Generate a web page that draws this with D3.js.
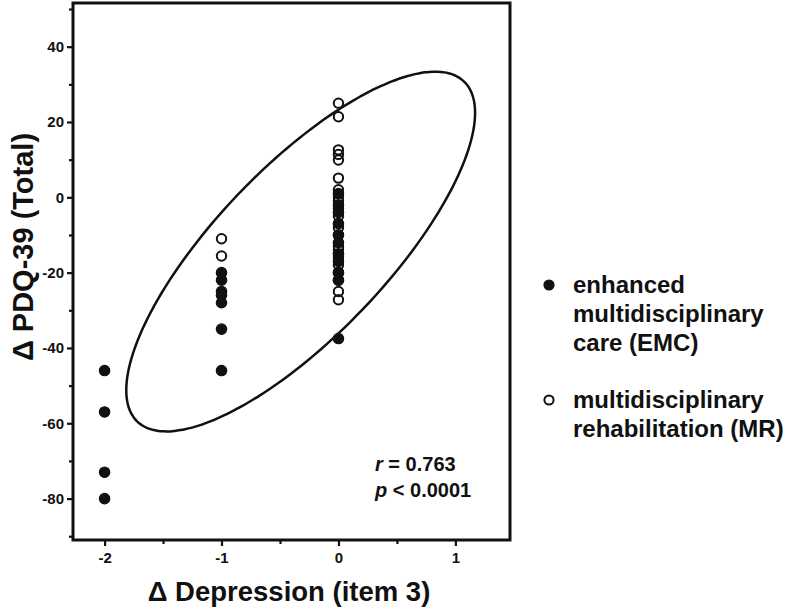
<!DOCTYPE html>
<html>
<head>
<meta charset="utf-8">
<script src="https://cdn.jsdelivr.net/npm/d3@7"></script>
<style>
  html, body { margin: 0; padding: 0; background: #fff; }
  svg { display: block; }
  text { font-family: "Liberation Sans", Arial, Helvetica, sans-serif; font-weight: bold; fill: #111; }
</style>
</head>
<body>
<svg id="chart" width="792" height="611"></svg>
<script>
// ---- data ----
const xTicks = [-2, -1, 0, 1];
const xMinorTicks = [-1.5, -0.5, 0.5];
const yTicks = [-80, -60, -40, -20, 0, 20, 40];
const yMinorTicks = [-90, -70, -50, -30, -10, 10, 30, 50];

// enhanced multidisciplinary care (EMC) – filled markers
const emcX = [-2, -2, -2, -2, -1, -1, -1, -1, -1, -1, -1, 0, 0, 0, 0, 0, 0, 0, 0, 0, 0, 0];
const emcY = [-46, -57, -73, -80, -20, -22, -25, -26, -28, -35, -46, 1, -2, -4, -7, -10, -12, -15, -17, -20, -22, -37.5];

// multidisciplinary rehabilitation (MR) – open markers
const mrX = [-1, -1, 0, 0, 0, 0, 0, 0, 0, 0, 0, 0, 0, 0, 0, 0, 0, 0, 0, 0, 0, 0, 0];
const mrY = [-11, -15.6, 25, 21.4, 12.6, 11.4, 9.9, 5.1, 2, 0, -1, -3, -5, -8, -10, -13, -14, -16, -18, -20, -22, -25, -27.2];

// 95% confidence ellipse (data units): centre and the two semi-axis vectors
const ellipseCenter = [-0.323, -14.4];
const ellipseMajor = [1.397, 45.14];
const ellipseMinor = [0.522, -15.61];

const legendLabels = [
  ["enhanced", "multidisciplinary", "care (EMC)"],
  ["multidisciplinary", "rehabilitation (MR)"]
];
const statR = "0.763";
const statP = "0.0001";
const xLabel = "Δ Depression (item 3)";
const yLabel = "Δ PDQ-39 (Total)";

// ---- layout ----
const svg = d3.select("#chart");
const pLeft = 73, pRight = 510, pTop = 3, pBottom = 540;

const x = d3.scaleLinear().domain([-2.27, 1.467]).range([pLeft, pRight]);
const y = d3.scaleLinear().domain([-91, 51.6]).range([pBottom, pTop]);

const ink = "#111";

// ellipse
const tSteps = d3.range(0, 360, 2).map(d => d * Math.PI / 180);
const ellPts = tSteps.map(t => [
  ellipseCenter[0] + Math.cos(t) * ellipseMajor[0] + Math.sin(t) * ellipseMinor[0],
  ellipseCenter[1] + Math.cos(t) * ellipseMajor[1] + Math.sin(t) * ellipseMinor[1]
]);
svg.append("path")
  .attr("d", d3.line().x(d => x(d[0])).y(d => y(d[1])).curve(d3.curveCardinalClosed)(ellPts))
  .attr("fill", "none").attr("stroke", ink).attr("stroke-width", 2.5);

// points
const emc = emcX.map((v, i) => ({ x: v, y: emcY[i] }));
const mr = mrX.map((v, i) => ({ x: v, y: mrY[i] }));

svg.append("g").selectAll("circle").data(emc).join("circle")
  .attr("cx", d => x(d.x)).attr("cy", d => y(d.y)).attr("r", 5.2)
  .attr("fill", ink).attr("stroke", ink).attr("stroke-width", 1.2);

svg.append("g").selectAll("circle").data(mr).join("circle")
  .attr("cx", d => x(d.x)).attr("cy", d => y(d.y)).attr("r", 4.7)
  .attr("fill", "none").attr("stroke", ink).attr("stroke-width", 2);

// frame
svg.append("rect")
  .attr("x", pLeft).attr("y", pTop).attr("width", pRight - pLeft).attr("height", pBottom - pTop)
  .attr("fill", "none").attr("stroke", ink).attr("stroke-width", 3);

// axes
const fmt = d => String(d);
const xAxis = svg.append("g").attr("transform", `translate(0,${pBottom})`)
  .call(d3.axisBottom(x).tickValues(xTicks).tickSize(6).tickPadding(6).tickFormat(fmt));
const xMinor = svg.append("g").attr("transform", `translate(0,${pBottom})`)
  .call(d3.axisBottom(x).tickValues(xMinorTicks).tickSize(4).tickFormat(""));
const yAxis = svg.append("g").attr("transform", `translate(${pLeft},0)`)
  .call(d3.axisLeft(y).tickValues(yTicks).tickSize(6).tickPadding(3).tickFormat(fmt));
const yMinor = svg.append("g").attr("transform", `translate(${pLeft},0)`)
  .call(d3.axisLeft(y).tickValues(yMinorTicks).tickSize(4).tickFormat(""));

[xAxis, xMinor, yAxis, yMinor].forEach(g => {
  g.select(".domain").remove();
  g.selectAll(".tick line").attr("stroke", ink).attr("stroke-width", 2.2);
  g.selectAll(".tick text").attr("font-size", 15).attr("fill", ink)
    .style("font-family", '"Liberation Sans", Arial, sans-serif').style("font-weight", "bold");
});

// axis titles
svg.append("text").attr("x", 289).attr("y", 601)
  .attr("text-anchor", "middle").attr("font-size", 27.5).text(xLabel);
svg.append("text").attr("transform", "translate(33,247) rotate(-90)")
  .attr("text-anchor", "middle").attr("font-size", 29).text(yLabel);

// statistics
const st = svg.append("g");
const t1 = st.append("text").attr("x", 375).attr("y", 471).attr("font-size", 20);
t1.append("tspan").attr("font-style", "italic").text("r");
t1.append("tspan").text(" = " + statR);
const t2 = st.append("text").attr("x", 375).attr("y", 497).attr("font-size", 20);
t2.append("tspan").attr("font-style", "italic").text("p");
t2.append("tspan").text(" < " + statP);

// legend
const lg = svg.append("g");
const legendStart = [293, 408];
legendLabels.forEach((lines, k) => {
  const baseY = legendStart[k];
  if (k === 0) {
    lg.append("circle").attr("cx", 549).attr("cy", baseY - 8).attr("r", 5)
      .attr("fill", ink).attr("stroke", ink).attr("stroke-width", 1.2);
  } else {
    lg.append("circle").attr("cx", 549).attr("cy", baseY - 8).attr("r", 4.6)
      .attr("fill", "none").attr("stroke", ink).attr("stroke-width", 2);
  }
  lines.forEach((s, i) => {
    lg.append("text").attr("x", 573).attr("y", baseY + i * 29)
      .attr("font-size", 24).text(s);
  });
});
</script>
</body>
</html>
